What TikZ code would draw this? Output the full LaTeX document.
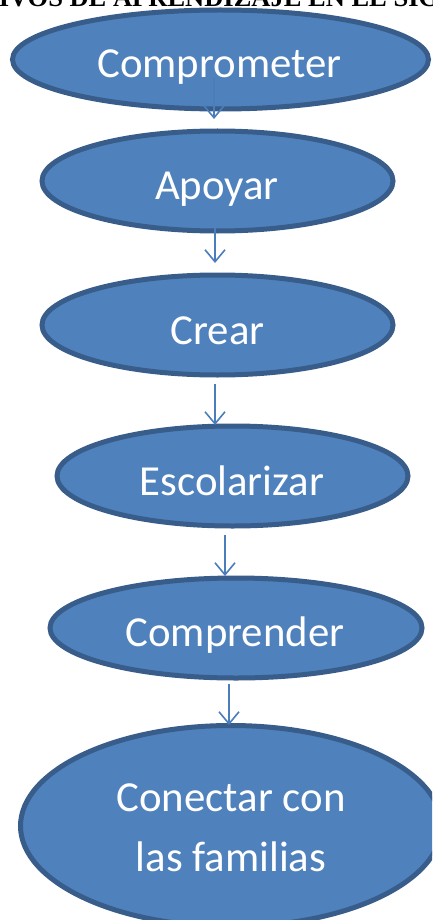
\documentclass[tikz,border=0pt]{standalone}
\usepackage{fontspec}
\setmainfont{Carlito}
\newfontfamily\titlefont{Liberation Serif}
\definecolor{fillblue}{HTML}{4F81BD}
\definecolor{edgeblue}{HTML}{385D8A}
\definecolor{arrowblue}{HTML}{4A7EBB}
\usetikzlibrary{arrows.meta,shapes.geometric}
\tikzset{
  stage/.style={ellipse,draw=edgeblue,fill=fillblue,line width=5pt,inner sep=0pt,minimum width=#1},
  link/.style={draw=arrowblue,line width=1.6pt,-{Straight Barb[length=12pt,width=20pt,line width=1.6pt]}},
  stagetext/.style={text=white,font=\fontsize{42.8}{60}\selectfont,inner sep=0pt,anchor=base}
}
\begin{document}
\begin{tikzpicture}[x=1pt,y=-1pt]
\useasboundingbox (0,0) rectangle (432,920);
\clip (0,0) rectangle (432,920);
\node[font=\titlefont\bfseries\fontsize{26.5}{28}\selectfont,anchor=base,inner sep=0pt] (title) at (219,7) {IVOS DE APRENDIZAJE EN EL SIG};
\node[stage=416pt,minimum height=99pt] (e1) at (220.5,59.5) {};
\node[stage=351pt,minimum height=100pt] (e2) at (217.5,181) {};
\node[stage=351pt,minimum height=100pt] (e3) at (217.5,325) {};
\node[stage=351pt,minimum height=100pt] (e4) at (232.5,476) {};
\node[stage=372pt,minimum height=100pt] (e5) at (236,628) {};
\node[stage=421pt,minimum height=201pt] (e6) at (231,826) {};
\node[stagetext] (t1) at (219.5,78) {Comprometer};
\node[stagetext] (t2) at (217,199) {Apoyar};
\node[stagetext] (t3) at (217.5,344) {Crear};
\node[stagetext] (t4) at (232,495) {Escolarizar};
\node[stagetext] (t5) at (235,646) {Comprender};
\node[stagetext] (t6a) at (231,811) {Conectar con};
\node[stagetext] (t6b) at (231,871) {las familias};
\coordinate (a1) at (214,78); \coordinate (b1) at (214,119);
\coordinate (a2) at (215,228); \coordinate (b2) at (215,263);
\coordinate (a3) at (215,384); \coordinate (b3) at (215,425);
\coordinate (a4) at (225,535); \coordinate (b4) at (225,576);
\coordinate (a5) at (229,684); \coordinate (b5) at (229,725);
\draw[link] (a1) -- (b1);
\draw[link] (a2) -- (b2);
\draw[link] (a3) -- (b3);
\draw[link] (a4) -- (b4);
\draw[link] (a5) -- (b5);
\end{tikzpicture}
\end{document}
